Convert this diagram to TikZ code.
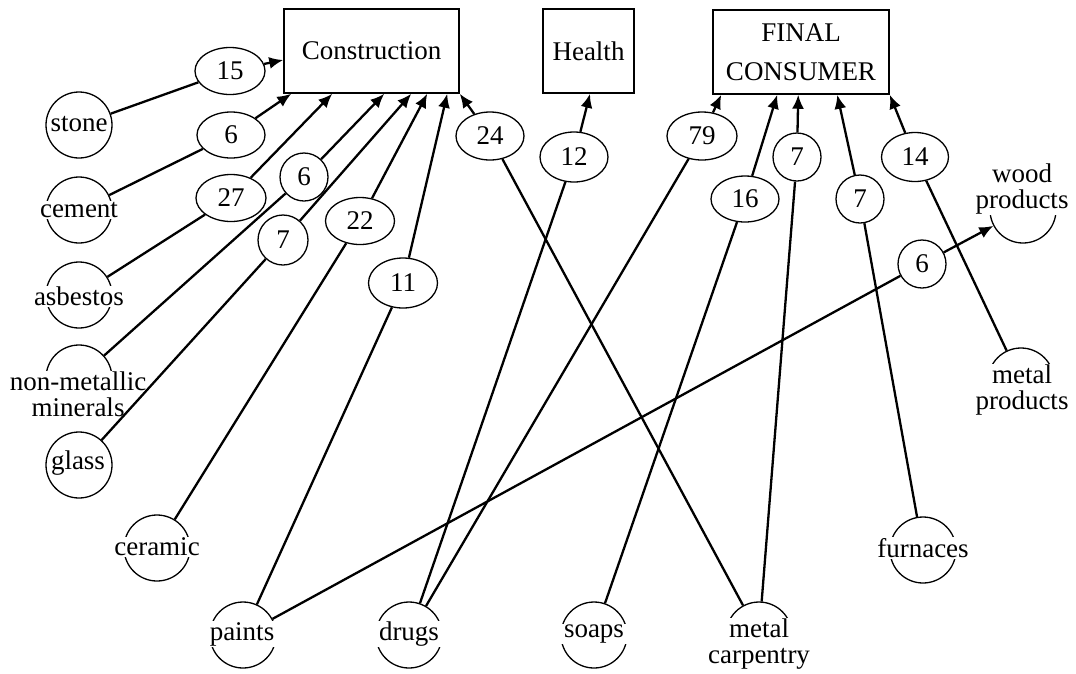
\documentclass[tikz,border=0pt]{standalone}
\usepackage{fontspec}
\setmainfont{Liberation Serif}
\usetikzlibrary{shapes.geometric,arrows.meta,calc}
\begin{document}
\begin{tikzpicture}[x=1pt,y=-1pt,
  every node/.style={font=\fontsize{27}{26}\selectfont},
  sector/.style={draw,line width=1.5pt,minimum height=84pt,inner sep=0pt,align=center},
  src/.style={circle,draw,line width=1.3pt,minimum size=66pt,inner sep=0pt},
  srctext/.style={fill=white,inner xsep=5pt,inner ysep=1pt,align=center},
  val/.style={ellipse,draw,line width=1.3pt,minimum width=69pt,minimum height=48pt,inner sep=0pt},
  valc/.style={circle,draw,line width=1.3pt,minimum size=48pt,inner sep=0pt},
  flow/.style={line width=2.3pt},
  flowarr/.style={line width=2.3pt,-{Latex[length=14pt,width=12pt]}},
]
\useasboundingbox (0,0) rectangle (1076,673);

% sectors
\node[sector,minimum width=175pt] (cons) at (371.5,51) {Construction};
\node[sector,minimum width=91pt] (health) at (588.5,51) {Health};
\node[sector,minimum width=176pt,font=\fontsize{27}{39}\selectfont] (fc) at (801,52) {FINAL\\CONSUMER};

% source circles
\node[src] (stone) at (79,125) {};
\node[src] (cement) at (79,210) {};
\node[src] (asbestos) at (79,295) {};
\node[src] (nonmet) at (79,378) {};
\node[src] (glass) at (79,465) {};
\node[src] (ceramic) at (157,548) {};
\node[src] (paints) at (243,635) {};
\node[src] (drugs) at (409,635) {};
\node[src] (soaps) at (594,635) {};
\node[src] (metcarp) at (759,635) {};
\node[src] (furnaces) at (923,550) {};
\node[src] (wood) at (1023,210) {};
\node[src] (metprod) at (1021,381) {};

% source names
\node[srctext,inner xsep=0.5pt] at (79,124) {stone};
\node[srctext] at (79,210) {cement};
\node[srctext] at (79,296) {asbestos};
\node[srctext] at (78,394) {non-metallic\\minerals};
\node[srctext,inner xsep=0.5pt] at (78,463) {glass};
\node[srctext] at (157,547) {ceramic};
\node[srctext] at (242,634) {paints};
\node[srctext] at (409,634) {drugs};
\node[srctext] at (594,634) {soaps};
\node[srctext] at (759,644) {metal\\carpentry};
\node[srctext] at (923,548) {furnaces};
\node[srctext] at (1022,189) {wood\\products};
\node[srctext] at (1022,390) {metal\\products};

% flow values
\node[val,minimum width=70pt,minimum height=47pt] (l15) at (230,71) {15};
\node[val,minimum width=68pt,minimum height=46pt] (l6a) at (231,135) {6};
\node[val,minimum width=70pt,minimum height=47pt] (l27) at (231,198) {27};
\node[valc] (l6b) at (304,177) {6};
\node[valc,minimum size=50pt] (l7a) at (283,240) {7};
\node[val,minimum height=47pt] (l22) at (360,221) {22};
\node[val,minimum height=50pt] (l11) at (403,283) {11};
\node[val,minimum width=68pt] (l24) at (490,136) {24};
\node[val,minimum width=68pt,minimum height=50pt] (l12) at (574,157) {12};
\node[val,minimum width=70pt] (l79) at (702,136) {79};
\node[val,minimum width=68pt,minimum height=46pt] (l16) at (745,199) {16};
\node[valc] (l7b) at (797,157) {7};
\node[valc] (l7c) at (860,199) {7};
\node[val,minimum width=67pt,minimum height=49pt] (l14) at (915,157) {14};
\node[valc] (l6c) at (922,264) {6};

% arrow ends on the sector boxes
\coordinate (cW) at ($(cons.west)+(0,9)$);
\coordinate (c1) at ($(cons.south west)+(8,0)$);
\coordinate (c2) at ($(cons.south west)+(49,0)$);
\coordinate (c3) at ($(cons.south west)+(101,0)$);
\coordinate (c4) at ($(cons.south west)+(128,0)$);
\coordinate (c5) at ($(cons.south west)+(144,0)$);
\coordinate (c6) at ($(cons.south west)+(164,0)$);
\coordinate (h1) at ($(health.south)+(1.5,0)$);
\coordinate (f1) at ($(fc.south west)+(9,0)$);
\coordinate (f2) at ($(fc.south west)+(65,0)$);
\coordinate (f3) at ($(fc.south west)+(86,0)$);
\coordinate (f4) at ($(fc.south west)+(125,0)$);

% flows
\draw[flow] (stone) -- (l15);     \draw[flowarr] (l15) -- (cW);
\draw[flow] (cement) -- (l6a);    \draw[flowarr] (l6a) -- (c1);
\draw[flow] (asbestos) -- (l27);  \draw[flowarr] (l27) -- (c2);
\draw[flow] (nonmet) -- (l6b);    \draw[flowarr] (l6b) -- (c3);
\draw[flow] (glass) -- (l7a);     \draw[flowarr] (l7a) -- (c4);
\draw[flow] (ceramic) -- (l22);   \draw[flowarr] (l22) -- (c5);
\draw[flow] (paints) -- (l11);    \draw[flowarr] (l11) -- (c6);
\draw[flow] (metcarp) -- (l24);   \draw[flowarr] (l24) -- (cons.south east);
\draw[flow] (drugs) -- (l12);     \draw[flowarr] (l12) -- (h1);
\draw[flow] (drugs) -- (l79);     \draw[flowarr] (l79) -- (f1);
\draw[flow] (soaps) -- (l16);     \draw[flowarr] (l16) -- (f2);
\draw[flow] (metcarp) -- (l7b);   \draw[flowarr] (l7b) -- (f3);
\draw[flow] (furnaces) -- (l7c);  \draw[flowarr] (l7c) -- (f4);
\draw[flow] (metprod) -- (l14);   \draw[flowarr] (l14) -- (fc.south east);
\draw[flow] (paints) -- (l6c);    \draw[flowarr] (l6c) -- (wood);
\end{tikzpicture}
\end{document}
